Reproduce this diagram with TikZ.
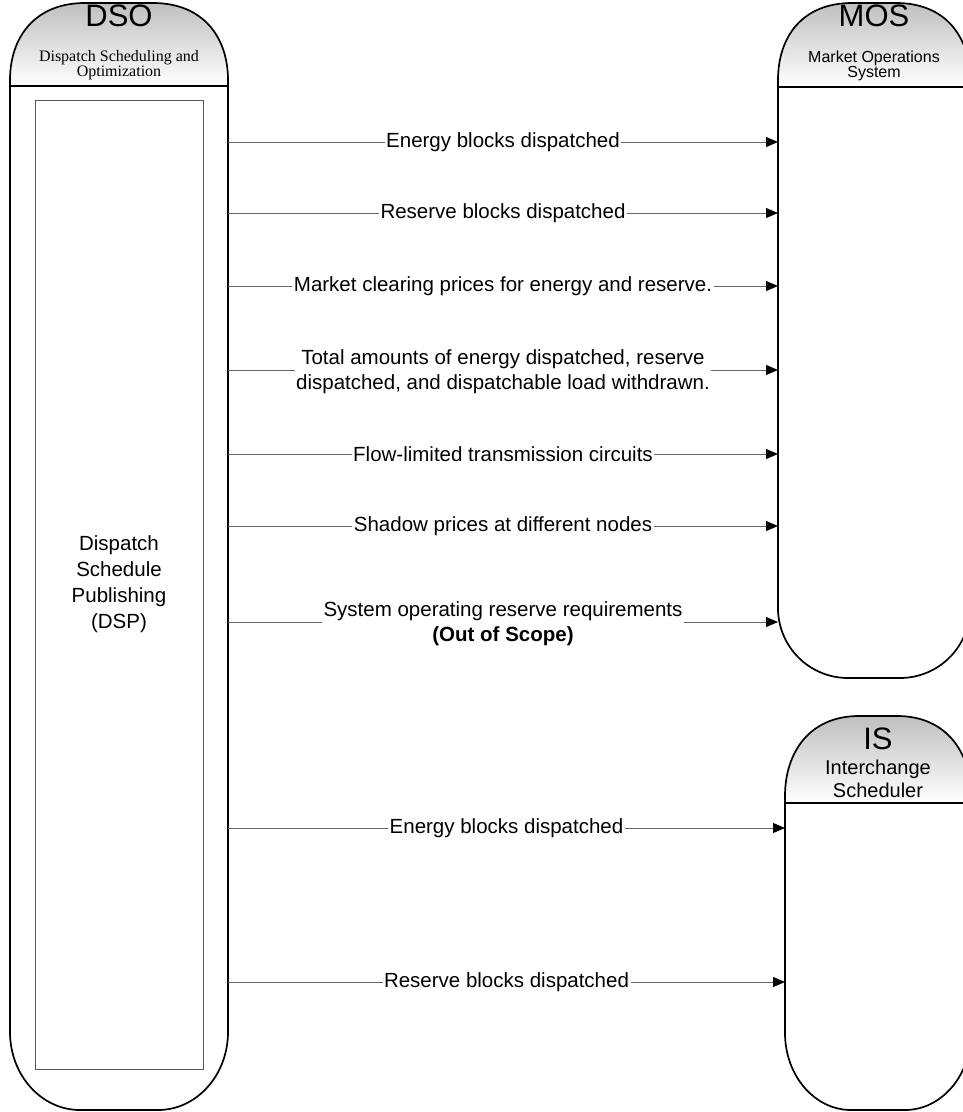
\documentclass[tikz,border=0pt]{standalone}
\usepackage{fontspec}
\setmainfont{Liberation Sans}
\newfontfamily\serifnm{Liberation Serif}
\usetikzlibrary{arrows.meta}
\begin{document}
\begin{tikzpicture}[x=1pt,y=-1pt,
  outl/.style={draw=black, line width=1.7pt},
  hdr/.style={top color=black!25, bottom color=white, draw=black, line width=1.7pt},
  conn/.style={draw=black!60, line width=0.9pt, -{Triangle[length=12pt,width=10pt,color=black]}},
  lbl/.style={fill=white, inner sep=1.5pt, font=\fontsize{20.5}{25}\selectfont, align=center},
  ttl/.style={font=\fontsize{31}{31}\selectfont, inner sep=0pt},
  subS/.style={font=\fontsize{16}{14}\selectfont, align=center, inner sep=0pt},
  subIS/.style={font=\fontsize{20}{23}\selectfont, align=center, inner sep=0pt},
  subD/.style={font=\serifnm\fontsize{16}{12}\selectfont, align=center, inner sep=0pt},
  inner/.style={draw=black!65, line width=1pt, fill=white, inner sep=0pt, align=center,
    font=\fontsize{20.5}{26}\selectfont}]
\useasboundingbox (0,0) rectangle (963,1112);
\clip (0,0) rectangle (963,1112);
\fill[white] (0,0) rectangle (963,1112);

% DSO
\draw[hdr] (10,86) -- (10,80) .. controls (10,37.5) and (34.6,3) .. (85,3) -- (153,3)
  .. controls (203.4,3) and (228,37.5) .. (228,80) -- (228,86) -- cycle;
\draw[outl] (10,86) -- (10,1032) .. controls (10,1075.1) and (41.3,1110) .. (80,1110) -- (158,1110)
  .. controls (196.7,1110) and (228,1075.1) .. (228,1032) -- (228,86);
\node[ttl] (dsoT) at (119,16) {DSO};
\node[subD] (dsoS) at (119,65) {Dispatch Scheduling and\\Optimization};
\node[inner, minimum width=168pt, minimum height=969pt] (dsp) at (119,584.5)
  {Dispatch\\Schedule\\Publishing\\(DSP)};

% MOS
\draw[hdr] (778,87) -- (778,80) .. controls (778,37.5) and (801.6,3) .. (852,3) -- (896,3)
  .. controls (946.4,3) and (970,37.5) .. (970,80) -- (970,87) -- cycle;
\draw[outl] (778,87) -- (778,608) .. controls (778,646.7) and (809.3,678) .. (848,678) -- (900,678)
  .. controls (938.7,678) and (970,646.7) .. (970,608) -- (970,87);
\node[ttl] (mosT) at (874,16) {MOS};
\node[subS] (mosS) at (874,66) {Market Operations\\System};

% IS
\draw[hdr] (785,803) -- (785,796) .. controls (785,753.5) and (808.6,716) .. (859,716) -- (897,716)
  .. controls (947.4,716) and (971,753.5) .. (971,796) -- (971,803) -- cycle;
\draw[outl] (785,803) -- (785,1033) .. controls (785,1075.5) and (814.5,1110) .. (851,1110) -- (905,1110)
  .. controls (941.5,1110) and (971,1075.5) .. (971,1033) -- (971,803);
\node[ttl] (isT) at (878,739) {IS};
\node[subIS] (isS) at (878,779) {Interchange\\Scheduler};

% connector end points
\coordinate (a1) at (228,142); \coordinate (b1) at (778,142);
\coordinate (a2) at (228,213); \coordinate (b2) at (778,213);
\coordinate (a3) at (228,286); \coordinate (b3) at (778,286);
\coordinate (a4) at (228,370); \coordinate (b4) at (778,370);
\coordinate (a5) at (228,454); \coordinate (b5) at (778,454);
\coordinate (a6) at (228,526); \coordinate (b6) at (778,526);
\coordinate (a7) at (228,622); \coordinate (b7) at (778,622);
\coordinate (a8) at (228,828); \coordinate (b8) at (785,828);
\coordinate (a9) at (228,982); \coordinate (b9) at (785,982);

\draw[conn] (a1) -- node[lbl] {Energy blocks dispatched} (b1);
\draw[conn] (a2) -- node[lbl] {Reserve blocks dispatched} (b2);
\draw[conn] (a3) -- node[lbl] {Market clearing prices for energy and reserve.} (b3);
\draw[conn] (a4) -- node[lbl, yshift=-2pt] {Total amounts of energy dispatched, reserve\\dispatched, and dispatchable load withdrawn.} (b4);
\draw[conn] (a5) -- node[lbl] {Flow-limited transmission circuits} (b5);
\draw[conn] (a6) -- node[lbl] {Shadow prices at different nodes} (b6);
\draw[conn] (a7) -- node[lbl, yshift=-2pt] {System operating reserve requirements\\\textbf{(Out of Scope)}} (b7);
\draw[conn] (a8) -- node[lbl] {Energy blocks dispatched} (b8);
\draw[conn] (a9) -- node[lbl] {Reserve blocks dispatched} (b9);
\end{tikzpicture}
\end{document}
